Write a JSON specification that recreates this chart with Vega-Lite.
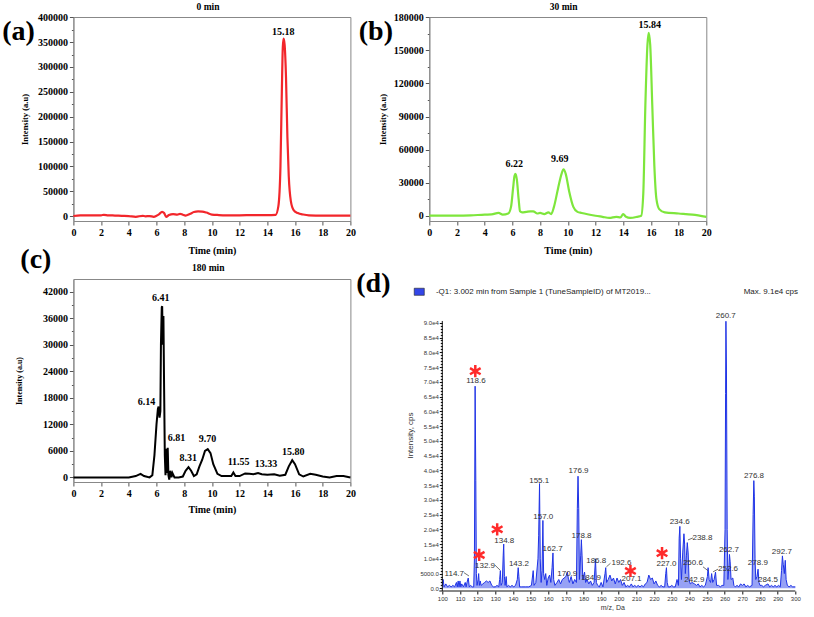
{
"$schema": "https://vega.github.io/schema/vega-lite/v6.json",
"autosize": {"type": "none"},
"padding": {"left": 73.4, "top": 17, "right": 740.6, "bottom": 600},
"background": "white",
"config": {
  "view": {"stroke": "#888", "strokeWidth": 1},
  "font": "Liberation Serif",
  "axis": {"labelFont": "Liberation Serif", "labelFontWeight": "bold", "labelFontSize": 10, "labelColor": "#000", "titleFont": "Liberation Serif", "titleFontWeight": "bold", "titleFontSize": 9, "titleColor": "#000", "grid": false, "domainColor": "#888", "tickColor": "#555", "tickSize": 4, "labelPadding": 2, "tickCount": 200, "labelOverlap": false, "labelFlush": false}
},
"datasets": {
  "a": [{"t":0,"v":0},{"t":0.5,"v":1500},{"t":1,"v":1500},{"t":2,"v":1500},{"t":2.2,"v":2500},{"t":2.5,"v":1500},{"t":3,"v":1000},{"t":3.5,"v":500},{"t":4,"v":0},{"t":4.5,"v":-1500},{"t":5,"v":500},{"t":5.2,"v":-500},{"t":5.5,"v":0},{"t":5.8,"v":-1500},{"t":6,"v":500},{"t":6.2,"v":4000},{"t":6.4,"v":8500},{"t":6.55,"v":6000},{"t":6.7,"v":-1500},{"t":6.9,"v":2000},{"t":7.2,"v":4000},{"t":7.5,"v":3000},{"t":7.7,"v":4500},{"t":7.9,"v":2500},{"t":8.1,"v":1000},{"t":8.4,"v":4000},{"t":8.7,"v":8000},{"t":9,"v":9500},{"t":9.3,"v":9000},{"t":9.6,"v":7000},{"t":10,"v":3000},{"t":10.5,"v":2000},{"t":11,"v":1500},{"t":12,"v":1500},{"t":13,"v":2000},{"t":14,"v":2000},{"t":14.6,"v":2500},{"t":14.8,"v":20000},{"t":14.95,"v":100000},{"t":15.05,"v":250000},{"t":15.12,"v":340000},{"t":15.18,"v":357000},{"t":15.25,"v":345000},{"t":15.35,"v":280000},{"t":15.45,"v":160000},{"t":15.55,"v":80000},{"t":15.7,"v":30000},{"t":15.9,"v":12000},{"t":16.2,"v":6000},{"t":16.6,"v":3000},{"t":17,"v":1500},{"t":18,"v":1000},{"t":19,"v":1000},{"t":20,"v":1000}],
  "b": [{"t":0,"v":0},{"t":1,"v":0},{"t":2,"v":0},{"t":3,"v":300},{"t":4,"v":1000},{"t":4.5,"v":1200},{"t":5,"v":2500},{"t":5.3,"v":1000},{"t":5.7,"v":2000},{"t":5.9,"v":8000},{"t":6.05,"v":25000},{"t":6.15,"v":36000},{"t":6.22,"v":38000},{"t":6.32,"v":33000},{"t":6.45,"v":15000},{"t":6.55,"v":4000},{"t":6.7,"v":3000},{"t":7,"v":3500},{"t":7.3,"v":4000},{"t":7.5,"v":4000},{"t":7.8,"v":2000},{"t":8,"v":2500},{"t":8.3,"v":1500},{"t":8.6,"v":3000},{"t":8.8,"v":1500},{"t":9,"v":8000},{"t":9.3,"v":25000},{"t":9.55,"v":38000},{"t":9.69,"v":42000},{"t":9.85,"v":38000},{"t":10.1,"v":22000},{"t":10.4,"v":8000},{"t":10.7,"v":3500},{"t":11,"v":2500},{"t":12,"v":0},{"t":12.5,"v":-1000},{"t":13,"v":-2000},{"t":13.5,"v":-1000},{"t":13.8,"v":-1500},{"t":14,"v":1500},{"t":14.2,"v":-1000},{"t":14.5,"v":-2000},{"t":15,"v":-1000},{"t":15.3,"v":0},{"t":15.45,"v":20000},{"t":15.6,"v":100000},{"t":15.75,"v":155000},{"t":15.84,"v":166000},{"t":15.95,"v":155000},{"t":16.1,"v":100000},{"t":16.25,"v":45000},{"t":16.4,"v":15000},{"t":16.6,"v":6000},{"t":17,"v":3000},{"t":18,"v":2000},{"t":19,"v":1000},{"t":20,"v":-1000}],
  "c": [{"t":0,"v":0},{"t":1,"v":0},{"t":2,"v":0},{"t":3,"v":0},{"t":4,"v":0},{"t":4.5,"v":300},{"t":4.85,"v":800},{"t":5.1,"v":300},{"t":5.5,"v":0},{"t":5.7,"v":500},{"t":5.85,"v":5000},{"t":6,"v":12000},{"t":6.1,"v":15500},{"t":6.15,"v":16000},{"t":6.22,"v":13500},{"t":6.28,"v":15000},{"t":6.32,"v":30000},{"t":6.38,"v":38500},{"t":6.41,"v":38700},{"t":6.45,"v":30000},{"t":6.5,"v":36500},{"t":6.55,"v":20000},{"t":6.6,"v":5000},{"t":6.65,"v":500},{"t":6.7,"v":6500},{"t":6.75,"v":1000},{"t":6.81,"v":6700},{"t":6.86,"v":500},{"t":6.92,"v":-500},{"t":7,"v":1500},{"t":7.08,"v":0},{"t":7.15,"v":1000},{"t":7.3,"v":0},{"t":7.6,"v":0},{"t":7.9,"v":200},{"t":8.1,"v":1500},{"t":8.31,"v":2300},{"t":8.5,"v":1500},{"t":8.7,"v":300},{"t":8.9,"v":700},{"t":9.1,"v":2500},{"t":9.3,"v":4000},{"t":9.5,"v":6000},{"t":9.7,"v":6400},{"t":9.9,"v":5500},{"t":10.1,"v":3000},{"t":10.4,"v":800},{"t":10.7,"v":300},{"t":11,"v":300},{"t":11.4,"v":300},{"t":11.55,"v":1100},{"t":11.7,"v":300},{"t":12,"v":300},{"t":12.4,"v":900},{"t":12.7,"v":800},{"t":13,"v":700},{"t":13.33,"v":1000},{"t":13.6,"v":700},{"t":14,"v":600},{"t":14.5,"v":700},{"t":14.9,"v":400},{"t":15.3,"v":600},{"t":15.55,"v":2500},{"t":15.8,"v":3900},{"t":16,"v":3000},{"t":16.3,"v":700},{"t":16.6,"v":200},{"t":17.1,"v":800},{"t":17.5,"v":600},{"t":18,"v":200},{"t":18.5,"v":0},{"t":19,"v":300},{"t":19.5,"v":300},{"t":20,"v":0}],
  "d": [{"mz":100,"v":1000},{"mz":100.5,"v":3000},{"mz":101,"v":500},{"mz":102,"v":1500},{"mz":103,"v":500},{"mz":104,"v":1000},{"mz":105,"v":500},{"mz":106,"v":1000},{"mz":107,"v":500},{"mz":108,"v":2000},{"mz":108.5,"v":500},{"mz":109,"v":2500},{"mz":109.5,"v":500},{"mz":110,"v":2500},{"mz":110.5,"v":500},{"mz":111,"v":1500},{"mz":112,"v":500},{"mz":113,"v":2000},{"mz":113.5,"v":500},{"mz":114,"v":2000},{"mz":114.7,"v":3500},{"mz":115.3,"v":500},{"mz":116,"v":1000},{"mz":117,"v":500},{"mz":117.8,"v":500},{"mz":118.2,"v":10000},{"mz":118.6,"v":68500},{"mz":119,"v":36500},{"mz":119.3,"v":5000},{"mz":119.7,"v":1000},{"mz":120.3,"v":3000},{"mz":120.6,"v":5000},{"mz":121,"v":1000},{"mz":121.5,"v":2500},{"mz":122,"v":1000},{"mz":123,"v":1500},{"mz":124,"v":2000},{"mz":125,"v":2500},{"mz":126,"v":2000},{"mz":127,"v":2500},{"mz":128,"v":1000},{"mz":129,"v":500},{"mz":130,"v":500},{"mz":131,"v":1000},{"mz":132,"v":500},{"mz":132.5,"v":3000},{"mz":132.9,"v":6000},{"mz":133.3,"v":1000},{"mz":134,"v":2000},{"mz":134.5,"v":11000},{"mz":134.8,"v":15000},{"mz":135.2,"v":4000},{"mz":135.6,"v":1000},{"mz":136.2,"v":4000},{"mz":136.6,"v":500},{"mz":137.5,"v":1000},{"mz":138.5,"v":500},{"mz":139.5,"v":1000},{"mz":140.5,"v":500},{"mz":141.5,"v":1000},{"mz":142.5,"v":3000},{"mz":143,"v":7000},{"mz":143.4,"v":4000},{"mz":143.8,"v":500},{"mz":145,"v":500},{"mz":147,"v":500},{"mz":149,"v":500},{"mz":150.5,"v":1000},{"mz":151.5,"v":6000},{"mz":152,"v":1000},{"mz":153,"v":2000},{"mz":154.2,"v":10000},{"mz":154.6,"v":18000},{"mz":155.1,"v":35500},{"mz":155.5,"v":10000},{"mz":156,"v":2000},{"mz":156.5,"v":6000},{"mz":157,"v":23000},{"mz":157.4,"v":5000},{"mz":158,"v":3000},{"mz":158.6,"v":5000},{"mz":159.2,"v":1000},{"mz":160,"v":3500},{"mz":160.8,"v":4500},{"mz":161.5,"v":2000},{"mz":162.2,"v":7000},{"mz":162.7,"v":12000},{"mz":163.1,"v":3000},{"mz":163.8,"v":1000},{"mz":165,"v":2000},{"mz":166,"v":3000},{"mz":167,"v":1500},{"mz":168,"v":3000},{"mz":169,"v":3500},{"mz":170,"v":4000},{"mz":170.9,"v":5500},{"mz":171.5,"v":3000},{"mz":172,"v":2000},{"mz":173,"v":4000},{"mz":174,"v":1500},{"mz":175,"v":3000},{"mz":176,"v":2000},{"mz":176.5,"v":27000},{"mz":176.9,"v":38000},{"mz":177.3,"v":27000},{"mz":177.7,"v":3000},{"mz":178.4,"v":11000},{"mz":178.8,"v":16500},{"mz":179.2,"v":11000},{"mz":179.6,"v":3000},{"mz":180,"v":4000},{"mz":180.6,"v":5500},{"mz":181.2,"v":2000},{"mz":182,"v":3000},{"mz":183,"v":1500},{"mz":184,"v":2500},{"mz":185,"v":1000},{"mz":186,"v":2000},{"mz":186.8,"v":10000},{"mz":187.3,"v":2000},{"mz":188,"v":1000},{"mz":189,"v":500},{"mz":190,"v":2000},{"mz":191,"v":500},{"mz":192.2,"v":5000},{"mz":192.6,"v":7000},{"mz":193.1,"v":2000},{"mz":194,"v":3000},{"mz":195,"v":4500},{"mz":196,"v":2500},{"mz":197,"v":3500},{"mz":198,"v":1500},{"mz":199,"v":3500},{"mz":200,"v":2000},{"mz":201,"v":3000},{"mz":202,"v":1000},{"mz":203,"v":2000},{"mz":204,"v":500},{"mz":205,"v":1000},{"mz":206,"v":500},{"mz":207.1,"v":1500},{"mz":208,"v":500},{"mz":209,"v":1000},{"mz":210,"v":500},{"mz":211,"v":1000},{"mz":212,"v":500},{"mz":213,"v":1000},{"mz":214,"v":500},{"mz":215,"v":1500},{"mz":216,"v":2000},{"mz":217,"v":4500},{"mz":218,"v":3000},{"mz":219,"v":3500},{"mz":220,"v":1500},{"mz":221,"v":2500},{"mz":222,"v":1000},{"mz":223,"v":500},{"mz":224,"v":1000},{"mz":225,"v":500},{"mz":226,"v":500},{"mz":226.6,"v":5000},{"mz":227,"v":7000},{"mz":227.4,"v":2000},{"mz":228,"v":500},{"mz":229,"v":500},{"mz":230,"v":1000},{"mz":231,"v":500},{"mz":232,"v":500},{"mz":233,"v":3000},{"mz":233.8,"v":1000},{"mz":234.2,"v":17000},{"mz":234.6,"v":21000},{"mz":235,"v":10000},{"mz":235.5,"v":3000},{"mz":236.2,"v":12000},{"mz":236.9,"v":18500},{"mz":237.3,"v":15000},{"mz":237.7,"v":5000},{"mz":238.3,"v":11000},{"mz":238.8,"v":15500},{"mz":239.3,"v":12000},{"mz":239.8,"v":3000},{"mz":240.5,"v":1500},{"mz":241.5,"v":2000},{"mz":242.9,"v":1500},{"mz":244,"v":1000},{"mz":245,"v":1500},{"mz":246,"v":500},{"mz":247,"v":1000},{"mz":248,"v":500},{"mz":249,"v":1000},{"mz":250.2,"v":4000},{"mz":250.6,"v":7000},{"mz":251.2,"v":3000},{"mz":252,"v":2000},{"mz":252.6,"v":5000},{"mz":253.2,"v":2000},{"mz":254,"v":3000},{"mz":254.8,"v":5500},{"mz":255.4,"v":1000},{"mz":256.5,"v":1000},{"mz":257.5,"v":500},{"mz":258.5,"v":1000},{"mz":259.5,"v":1000},{"mz":260.2,"v":20000},{"mz":260.5,"v":66000},{"mz":260.7,"v":90500},{"mz":261,"v":74000},{"mz":261.4,"v":20000},{"mz":261.8,"v":3000},{"mz":262.4,"v":7000},{"mz":262.7,"v":11500},{"mz":263.1,"v":9000},{"mz":263.6,"v":3000},{"mz":264.6,"v":3500},{"mz":265.2,"v":1000},{"mz":266,"v":500},{"mz":267,"v":1000},{"mz":268,"v":500},{"mz":269,"v":1500},{"mz":270,"v":1000},{"mz":271,"v":1500},{"mz":272,"v":500},{"mz":273,"v":1000},{"mz":274,"v":500},{"mz":275.5,"v":1000},{"mz":276.1,"v":25000},{"mz":276.5,"v":36500},{"mz":276.8,"v":31000},{"mz":277.2,"v":10000},{"mz":277.6,"v":3000},{"mz":278.3,"v":4000},{"mz":278.9,"v":6500},{"mz":279.4,"v":2000},{"mz":280,"v":1000},{"mz":281,"v":1000},{"mz":282,"v":500},{"mz":283,"v":1000},{"mz":284.5,"v":1500},{"mz":285.5,"v":500},{"mz":286.5,"v":1000},{"mz":287.5,"v":500},{"mz":288.5,"v":1000},{"mz":289.5,"v":500},{"mz":290.5,"v":1000},{"mz":291.5,"v":500},{"mz":292.2,"v":6000},{"mz":292.7,"v":11000},{"mz":293.2,"v":8000},{"mz":293.8,"v":5000},{"mz":294.3,"v":9500},{"mz":294.8,"v":3000},{"mz":295.5,"v":1000},{"mz":296.5,"v":500},{"mz":297.5,"v":1000},{"mz":298.5,"v":500},{"mz":300,"v":500}],
  "dlab": [{"x":119.05,"y":70100,"label":"118.6"},{"x":106.8,"y":5000,"label":"114.7"},{"x":124.2,"y":7600,"label":"132.9"},{"x":135.1,"y":16100,"label":"134.8"},{"x":143.4,"y":8100,"label":"143.2"},{"x":154.9,"y":36500,"label":"155.1"},{"x":157.2,"y":24200,"label":"157.0"},{"x":162.5,"y":13500,"label":"162.7"},{"x":170.8,"y":4900,"label":"170.9"},{"x":177.2,"y":39600,"label":"176.9"},{"x":178.9,"y":17900,"label":"178.8"},{"x":187.2,"y":9300,"label":"186.8"},{"x":184.2,"y":3600,"label":"184.9"},{"x":201.5,"y":8500,"label":"192.6"},{"x":207.2,"y":3000,"label":"207.1"},{"x":227.0,"y":8200,"label":"227.0"},{"x":234.5,"y":22400,"label":"234.6"},{"x":247.4,"y":16900,"label":"238.8"},{"x":242.0,"y":8500,"label":"250.6"},{"x":242.8,"y":2800,"label":"242.9"},{"x":261.9,"y":6400,"label":"252.6"},{"x":262.4,"y":13000,"label":"262.7"},{"x":260.6,"y":92400,"label":"260.7"},{"x":276.6,"y":38200,"label":"276.8"},{"x":278.8,"y":8500,"label":"278.9"},{"x":284.5,"y":2800,"label":"284.5"},{"x":292.4,"y":12400,"label":"292.7"}],
  "dstar": [{"x":118.7,"y":73600},{"x":120.9,"y":11300},{"x":131.1,"y":20000},{"x":206.6,"y":5900},{"x":224.5,"y":11900}],
  "dlead": [{"x":112.3,"y":5300,"x2":115.1,"y2":4200},{"x":129.8,"y":7900,"x2":132.7,"y2":6200},{"x":193.0,"y":7300,"x2":195.3,"y2":8500},{"x":239.2,"y":16400,"x2":242.0,"y2":17100},{"x":247.7,"y":7300,"x2":250.5,"y2":6000},{"x":253.4,"y":5600,"x2":256.2,"y2":6500}]
},
"columns": 2,
"align": "each",
"bounds": "flush",
"spacing": {"row": 58, "column": 78.9},
"concat": [
  {
    "width": 277, "height": 204,
    "layer": [
      {"data": {"name": "a"}, "mark": {"type": "line", "color": "#f2262b", "strokeWidth": 2.2, "interpolate": "monotone"},
       "encoding": {
         "x": {"field": "t", "type": "quantitative", "scale": {"domain": [0, 20], "nice": false, "zero": false}, "axis": {"values": [0,2,4,6,8,10,12,14,16,18,20], "format": "d", "title": "Time (min)", "titleFontSize": 10, "titlePadding": 8}},
         "y": {"field": "v", "type": "quantitative", "scale": {"domain": [-10000, 400600], "nice": false}, "axis": {"values": [0,25000,50000,75000,100000,125000,150000,175000,200000,225000,250000,275000,300000,325000,350000,375000,400000], "labelExpr": "datum.value % 50000 == 0 ? datum.value : ''", "tickSize": {"condition": {"test": "datum.value % 50000 == 0", "value": 4}, "value": 2}, "title": "Intensity (a.u)", "titleFontSize": 8.5, "titlePadding": 8}}
       }},
      {"data": {"values": [{"t": 15.15, "v": 369800, "label": "15.18", "s": 10}, {"t": 9.72, "v": 421300, "label": "0 min", "s": 9.5}]}, "mark": {"type": "text", "fontWeight": "bold", "font": "Liberation Serif"},
       "encoding": {"x": {"field": "t", "type": "quantitative"}, "y": {"field": "v", "type": "quantitative"}, "text": {"field": "label"}, "size": {"field": "s", "type": "quantitative", "scale": null, "legend": null}}},
      {"data": {"values": [{"t": -3.96, "v": 371000, "label": "(a)"}]}, "mark": {"type": "text", "fontSize": 28, "fontWeight": "bold", "font": "Liberation Serif"},
       "encoding": {"x": {"field": "t", "type": "quantitative"}, "y": {"field": "v", "type": "quantitative"}, "text": {"field": "label"}}}
    ]
  },
  {
    "width": 277, "height": 204,
    "layer": [
      {"data": {"name": "b"}, "mark": {"type": "line", "color": "#7ee63c", "strokeWidth": 2.2, "interpolate": "monotone"},
       "encoding": {
         "x": {"field": "t", "type": "quantitative", "scale": {"domain": [0, 20], "nice": false, "zero": false}, "axis": {"values": [0,2,4,6,8,10,12,14,16,18,20], "format": "d", "title": "Time (min)", "titleFontSize": 10, "titlePadding": 8}},
         "y": {"field": "v", "type": "quantitative", "scale": {"domain": [-4800, 180300], "nice": false}, "axis": {"values": [0,15000,30000,45000,60000,75000,90000,105000,120000,135000,150000,165000,180000], "labelExpr": "datum.value % 30000 == 0 ? datum.value : ''", "tickSize": {"condition": {"test": "datum.value % 30000 == 0", "value": 4}, "value": 2}, "title": "Intensity (a.u)", "titleFontSize": 8.5, "titlePadding": 6}}
       }},
      {"data": {"values": [{"t": 6.13, "v": 46900, "label": "6.22", "s": 10},{"t": 9.41, "v": 51150, "label": "9.69", "s": 10},{"t": 15.92, "v": 172700, "label": "15.84", "s": 10},{"t": 9.7, "v": 189650, "label": "30 min", "s": 9.5}]}, "mark": {"type": "text", "fontWeight": "bold", "font": "Liberation Serif"},
       "encoding": {"x": {"field": "t", "type": "quantitative"}, "y": {"field": "v", "type": "quantitative"}, "text": {"field": "label"}, "size": {"field": "s", "type": "quantitative", "scale": null, "legend": null}}},
      {"data": {"values": [{"t": -3.86, "v": 166600, "label": "(b)"}]}, "mark": {"type": "text", "fontSize": 28, "fontWeight": "bold", "font": "Liberation Serif"},
       "encoding": {"x": {"field": "t", "type": "quantitative"}, "y": {"field": "v", "type": "quantitative"}, "text": {"field": "label"}}}
    ]
  },
  {
    "width": 277, "height": 203,
    "layer": [
      {"data": {"name": "c"}, "mark": {"type": "line", "color": "#000", "strokeWidth": 2},
       "encoding": {
         "x": {"field": "t", "type": "quantitative", "scale": {"domain": [0, 20], "nice": false, "zero": false}, "axis": {"values": [0,2,4,6,8,10,12,14,16,18,20], "format": "d", "title": "Time (min)", "titleFontSize": 10, "titlePadding": 6}},
         "y": {"field": "v", "type": "quantitative", "scale": {"domain": [-1040, 44870], "nice": false}, "axis": {"values": [0,3000,6000,9000,12000,15000,18000,21000,24000,27000,30000,33000,36000,39000,42000], "labelExpr": "datum.value % 6000 == 0 ? datum.value : ''", "tickSize": {"condition": {"test": "datum.value % 6000 == 0", "value": 4}, "value": 2}, "title": "Intensity (a.u)", "titleFontSize": 8, "titlePadding": 19}}
       }},
      {"data": {"values": [{"t": 6.31, "v": 40510, "label": "6.41", "s": 10},{"t": 5.28, "v": 17160, "label": "6.14", "s": 10},{"t": 7.44, "v": 8900, "label": "6.81", "s": 10},{"t": 8.29, "v": 4380, "label": "8.31", "s": 10},{"t": 9.69, "v": 8670, "label": "9.70", "s": 10},{"t": 11.93, "v": 3390, "label": "11.55", "s": 10},{"t": 13.9, "v": 3020, "label": "13.33", "s": 10},{"t": 15.88, "v": 5650, "label": "15.80", "s": 10},{"t": 9.74, "v": 47430, "label": "180 min", "s": 9.5}]}, "mark": {"type": "text", "fontWeight": "bold", "font": "Liberation Serif"},
       "encoding": {"x": {"field": "t", "type": "quantitative"}, "y": {"field": "v", "type": "quantitative"}, "text": {"field": "label"}, "size": {"field": "s", "type": "quantitative", "scale": null, "legend": null}}},
      {"data": {"values": [{"t": -2.71, "v": 49150, "label": "(c)"}]}, "mark": {"type": "text", "fontSize": 28, "fontWeight": "bold", "font": "Liberation Serif"},
       "encoding": {"x": {"field": "t", "type": "quantitative"}, "y": {"field": "v", "type": "quantitative"}, "text": {"field": "label"}}}
    ]
  },
  {
    "width": 366, "height": 312,
    "view": {"stroke": null},
    "layer": [
      {"data": {"name": "d"}, "mark": {"type": "area", "color": "#8c98f4", "opacity": 0.9},
       "encoding": {
         "x": {"field": "mz", "type": "quantitative", "scale": {"domain": [92.64, 300], "nice": false, "zero": false},
               "axis": {"domain": false, "values": [100,110,120,130,140,150,160,170,180,190,200,210,220,230,240,250,260,270,280,290,300], "format": "d", "title": "m/z, Da", "labelFont": "Liberation Sans", "labelFontWeight": "normal", "labelFontSize": 6, "labelColor": "#333", "titleFont": "Liberation Sans", "titleFontWeight": "normal", "titleFontSize": 7, "titleColor": "#333", "tickColor": "#111", "tickSize": 3, "labelPadding": 1, "titlePadding": 2}},
         "y": {"field": "v", "type": "quantitative", "scale": {"domain": [-900, 104827], "nice": false},
               "axis": {"offset": -13, "domain": false, "values": [0,1000,2000,3000,4000,5000,6000,7000,8000,9000,10000,11000,12000,13000,14000,15000,16000,17000,18000,19000,20000,21000,22000,23000,24000,25000,26000,27000,28000,29000,30000,31000,32000,33000,34000,35000,36000,37000,38000,39000,40000,41000,42000,43000,44000,45000,46000,47000,48000,49000,50000,51000,52000,53000,54000,55000,56000,57000,58000,59000,60000,61000,62000,63000,64000,65000,66000,67000,68000,69000,70000,71000,72000,73000,74000,75000,76000,77000,78000,79000,80000,81000,82000,83000,84000,85000,86000,87000,88000,89000,90000],
                        "labelExpr": "datum.value % 5000 != 0 ? '' : (datum.value == 0 ? '0.0' : (datum.value == 5000 ? '5000.0' : format(datum.value / 10000, '.1f') + 'e4'))",
                        "tickSize": {"condition": {"test": "datum.value % 5000 == 0", "value": 3}, "value": 2},
                        "title": "Intensity, cps", "labelFont": "Liberation Sans", "labelFontWeight": "normal", "labelFontSize": 6, "labelColor": "#333", "titleFont": "Liberation Sans", "titleFontWeight": "normal", "titleFontSize": 8, "titleColor": "#333", "tickColor": "#111", "labelPadding": 1, "titlePadding": 5.3}}
       }},
      {"data": {"name": "d"}, "mark": {"type": "line", "color": "#1f33e6", "strokeWidth": 1},
       "encoding": {"x": {"field": "mz", "type": "quantitative"}, "y": {"field": "v", "type": "quantitative"}}},
      {"data": {"values": [{"x": 100, "y": -900, "y2": 90600}]}, "mark": {"type": "rule", "color": "#111", "strokeWidth": 1},
       "encoding": {"x": {"field": "x", "type": "quantitative"}, "y": {"field": "y", "type": "quantitative"}, "y2": {"field": "y2"}}},
      {"data": {"values": [{"x": 98.3, "x2": 300, "y": -900}]}, "mark": {"type": "rule", "color": "#111", "strokeWidth": 1},
       "encoding": {"x": {"field": "x", "type": "quantitative"}, "x2": {"field": "x2"}, "y": {"field": "y", "type": "quantitative"}}},
      {"data": {"name": "dlead"}, "mark": {"type": "rule", "color": "#333", "strokeWidth": 0.7},
       "encoding": {"x": {"field": "x", "type": "quantitative"}, "x2": {"field": "x2"}, "y": {"field": "y", "type": "quantitative"}, "y2": {"field": "y2"}}},
      {"data": {"name": "dlab"}, "mark": {"type": "text", "font": "Liberation Sans", "fontSize": 8, "color": "#333"},
       "encoding": {"x": {"field": "x", "type": "quantitative"}, "y": {"field": "y", "type": "quantitative"}, "text": {"field": "label"}}},
      {"data": {"name": "dstar"}, "mark": {"type": "point", "shape": "M0,-1L0,1M-0.87,-0.5L0.87,0.5M-0.87,0.5L0.87,-0.5", "filled": false, "size": 150, "strokeWidth": 2.5, "color": "#ff2a2a", "opacity": 1},
       "encoding": {"x": {"field": "x", "type": "quantitative"}, "y": {"field": "y", "type": "quantitative"}}},
      {"data": {"values": [{"x": 84.1, "x2": 89.8, "y": 99300, "y2": 101700}]}, "mark": {"type": "rect", "color": "#3346e8", "stroke": "#222", "strokeWidth": 0.6},
       "encoding": {"x": {"field": "x", "type": "quantitative"}, "x2": {"field": "x2"}, "y": {"field": "y", "type": "quantitative"}, "y2": {"field": "y2"}}},
      {"data": {"values": [{"x": 96.4, "y": 100500, "label": "-Q1: 3.002 min from Sample 1 (TuneSampleID) of MT2019..."}]}, "mark": {"type": "text", "align": "left", "font": "Liberation Sans", "fontSize": 8, "color": "#222"},
       "encoding": {"x": {"field": "x", "type": "quantitative"}, "y": {"field": "y", "type": "quantitative"}, "text": {"field": "label"}}},
      {"data": {"values": [{"x": 301.5, "y": 100500, "label": "Max. 9.1e4 cps"}]}, "mark": {"type": "text", "align": "right", "font": "Liberation Sans", "fontSize": 8, "color": "#222"},
       "encoding": {"x": {"field": "x", "type": "quantitative"}, "y": {"field": "y", "type": "quantitative"}, "text": {"field": "label"}}},
      {"data": {"values": [{"x": 60.95, "y": 103120, "label": "(d)"}]}, "mark": {"type": "text", "fontSize": 28, "fontWeight": "bold", "font": "Liberation Serif", "color": "#000"},
       "encoding": {"x": {"field": "x", "type": "quantitative"}, "y": {"field": "y", "type": "quantitative"}, "text": {"field": "label"}}}
    ]
  }
]
}
